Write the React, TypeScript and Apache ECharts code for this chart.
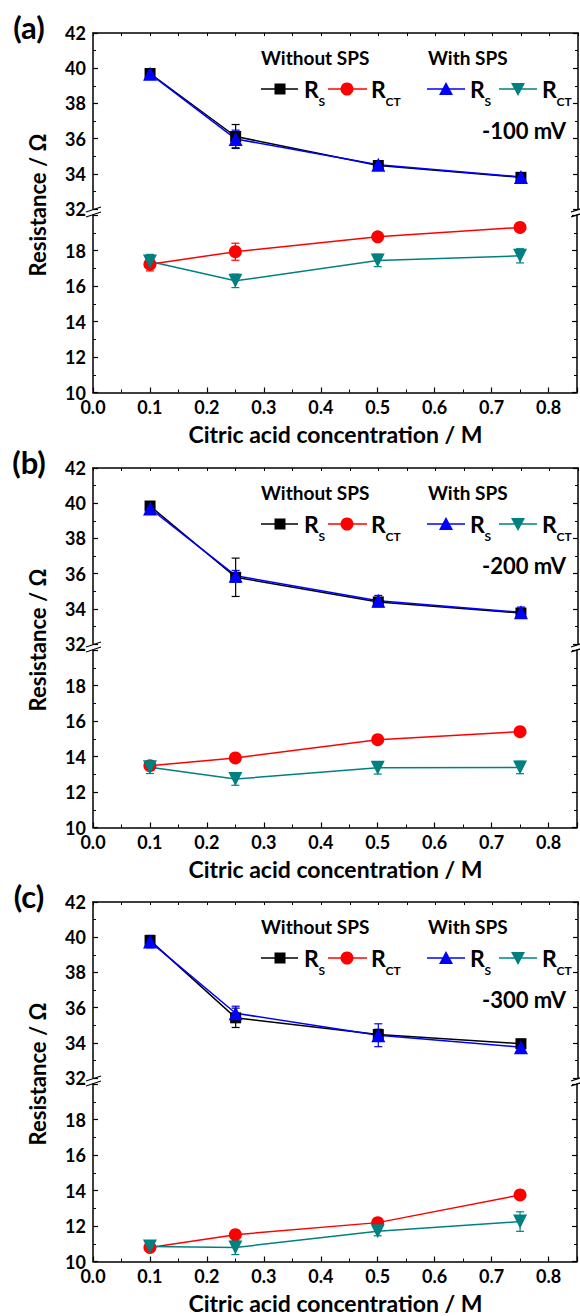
import React, { useEffect, useRef } from "react";
import * as echarts from "echarts";

// ---------- data ----------
const X_VALUES = [0.1, 0.25, 0.5, 0.75];
const PANEL_LABELS = ["(a)", "(b)", "(c)"];
const POTENTIALS = ["-100 mV", "-200 mV", "-300 mV"];
const X_TITLE = "Citric acid concentration / M";
const Y_TITLE = "Resistance / Ω";
const UPPER_RANGE = [32, 42];
const LOWER_RANGE = [10, 20];

// panel (a) -100 mV
const RS_WITHOUT_A = [39.7, 36.12, 34.47, 33.8];
const RS_WITH_A = [39.68, 35.98, 34.52, 33.82];
const RCT_WITHOUT_A = [17.23, 17.93, 18.77, 19.3];
const RCT_WITH_A = [17.38, 16.29, 17.44, 17.7];
const RS_WITHOUT_A_ERR = [0.25, 0.68, 0.2, 0.2];
const RS_WITH_A_ERR = [0.25, 0.5, 0.2, 0.25];
const RCT_WITHOUT_A_ERR = [0.38, 0.48, 0.15, 0.15];
const RCT_WITH_A_ERR = [0.4, 0.38, 0.35, 0.4];

// panel (b) -200 mV
const RS_WITHOUT_B = [39.84, 35.79, 34.39, 33.76];
const RS_WITH_B = [39.7, 35.88, 34.46, 33.8];
const RCT_WITHOUT_B = [13.48, 13.92, 14.95, 15.4];
const RCT_WITH_B = [13.39, 12.73, 13.36, 13.38];
const RS_WITHOUT_B_ERR = [0.2, 1.09, 0.25, 0.2];
const RS_WITH_B_ERR = [0.3, 0.3, 0.3, 0.3];
const RCT_WITHOUT_B_ERR = [0.2, 0.15, 0.15, 0.15];
const RCT_WITH_B_ERR = [0.35, 0.35, 0.35, 0.35];

// panel (c) -300 mV
const RS_WITHOUT_C = [39.82, 35.42, 34.47, 33.95];
const RS_WITH_C = [39.75, 35.68, 34.43, 33.75];
const RCT_WITHOUT_C = [10.79, 11.51, 12.19, 13.75];
const RCT_WITH_C = [10.85, 10.79, 11.7, 12.25];
const RS_WITHOUT_C_ERR = [0.25, 0.55, 0.3, 0.15];
const RS_WITH_C_ERR = [0.35, 0.4, 0.65, 0.35];
const RCT_WITHOUT_C_ERR = [0.2, 0.15, 0.15, 0.15];
const RCT_WITH_C_ERR = [0.3, 0.4, 0.25, 0.55];

const PANELS = [
  { rsWo: RS_WITHOUT_A, rsW: RS_WITH_A, rctWo: RCT_WITHOUT_A, rctW: RCT_WITH_A,
    rsWoE: RS_WITHOUT_A_ERR, rsWE: RS_WITH_A_ERR, rctWoE: RCT_WITHOUT_A_ERR, rctWE: RCT_WITH_A_ERR },
  { rsWo: RS_WITHOUT_B, rsW: RS_WITH_B, rctWo: RCT_WITHOUT_B, rctW: RCT_WITH_B,
    rsWoE: RS_WITHOUT_B_ERR, rsWE: RS_WITH_B_ERR, rctWoE: RCT_WITHOUT_B_ERR, rctWE: RCT_WITH_B_ERR },
  { rsWo: RS_WITHOUT_C, rsW: RS_WITH_C, rctWo: RCT_WITHOUT_C, rctW: RCT_WITH_C,
    rsWoE: RS_WITHOUT_C_ERR, rsWE: RS_WITH_C_ERR, rctWoE: RCT_WITHOUT_C_ERR, rctWE: RCT_WITH_C_ERR },
];

// ---------- style ----------
const FONT = "Lato";
const BLACK = "#000000";
const RED = "#ff0000";
const BLUE = "#0000ff";
const TEAL = "#008080";
const PANEL_TOPS = [33, 468, 902];
const GRID_LEFT = 93;
const GRID_WIDTH = 485;
const UPPER_H = 176;
const LOWER_OFF = 182;
const LOWER_H = 177.5;
const X_MAX = 0.85;

function buildOption() {
  const grids: any[] = [];
  const xAxes: any[] = [];
  const yAxes: any[] = [];
  const series: any[] = [];
  const graphics: any[] = [];

  const axisLineStyle = { color: BLACK, width: 1.5 };

  PANELS.forEach((p, i) => {
    const top = PANEL_TOPS[i];
    const gU = grids.length;
    grids.push({ left: GRID_LEFT, width: GRID_WIDTH, top, height: UPPER_H });
    const gL = grids.length;
    grids.push({ left: GRID_LEFT, width: GRID_WIDTH, top: top + LOWER_OFF, height: LOWER_H });

    // x axes
    const xU = xAxes.length;
    xAxes.push({
      type: "value", gridIndex: gU, position: "top", min: 0, max: X_MAX, interval: 0.05,
      axisLine: { show: true, lineStyle: axisLineStyle },
      axisTick: { show: true, inside: true, length: 3, lineStyle: { color: BLACK, width: 1 } },
      axisLabel: { show: false }, splitLine: { show: false },
    });
    const xL = xAxes.length;
    xAxes.push({
      type: "value", gridIndex: gL, position: "bottom", min: 0, max: X_MAX, interval: 0.1,
      axisLine: { show: true, lineStyle: axisLineStyle },
      axisTick: { show: true, inside: true, length: 5, lineStyle: { color: BLACK, width: 1.2 } },
      minorTick: { show: true, splitNumber: 2, length: 3, lineStyle: { color: BLACK, width: 1 } },
      axisLabel: {
        show: true, margin: 5, color: BLACK, fontFamily: FONT, fontWeight: "bold", fontSize: 18,
        formatter: (v: number) => (Math.abs(v * 10 - Math.round(v * 10)) < 1e-6 ? v.toFixed(1) : ""),
      },
      splitLine: { show: false },
    });

    // y axes
    const mkY = (grid: number, range: number[], pos: string, labels: boolean, hideTop: boolean) => ({
      type: "value", gridIndex: grid, position: pos, min: range[0], max: range[1], interval: 2,
      axisLine: { show: true, lineStyle: axisLineStyle },
      axisTick: { show: true, inside: true, length: 5, lineStyle: { color: BLACK, width: 1.2 } },
      minorTick: { show: true, splitNumber: 2, length: 3, lineStyle: { color: BLACK, width: 1 } },
      axisLabel: {
        show: labels, margin: 7, color: BLACK, fontFamily: FONT, fontWeight: "bold", fontSize: 18,
        formatter: (v: number) => (hideTop && v === range[1] ? "" : String(v)),
      },
      splitLine: { show: false },
    });
    const yU = yAxes.length;
    yAxes.push(mkY(gU, UPPER_RANGE, "left", true, false));
    yAxes.push(mkY(gU, UPPER_RANGE, "right", false, false));
    const yL = yAxes.length;
    yAxes.push(mkY(gL, LOWER_RANGE, "left", true, true));
    yAxes.push(mkY(gL, LOWER_RANGE, "right", false, false));

    const addSeries = (vals: number[], errs: number[], color: string, symbol: string,
      size: number, rotate: number, xi: number, yi: number, name: string) => {
      series.push({
        type: "custom", name: name + "-err", xAxisIndex: xi, yAxisIndex: yi,
        data: X_VALUES.map((x, k) => [x, vals[k], errs[k]]),
        encode: { x: 0, y: 1 }, silent: true, z: 2,
        renderItem: (_params: any, api: any) => {
          const x = api.value(0), y = api.value(1), e = api.value(2);
          const t = api.coord([x, y + e]);
          const b = api.coord([x, y - e]);
          const hw = 4;
          const st = { stroke: color, lineWidth: 1.2 };
          return {
            type: "group",
            children: [
              { type: "line", shape: { x1: t[0], y1: t[1], x2: b[0], y2: b[1] }, style: st },
              { type: "line", shape: { x1: t[0] - hw, y1: t[1], x2: t[0] + hw, y2: t[1] }, style: st },
              { type: "line", shape: { x1: b[0] - hw, y1: b[1], x2: b[0] + hw, y2: b[1] }, style: st },
            ],
          };
        },
      });
      series.push({
        type: "line", name, xAxisIndex: xi, yAxisIndex: yi,
        data: X_VALUES.map((x, k) => [x, vals[k]]),
        symbol, symbolSize: size, symbolRotate: rotate, showAllSymbol: true,
        lineStyle: { color, width: 1.5 }, itemStyle: { color }, z: 3,
      });
    };
    addSeries(p.rsWo, p.rsWoE, BLACK, "rect", 11, 0, xU, yU, "Rs without SPS");
    addSeries(p.rsW, p.rsWE, BLUE, "triangle", 14, 0, xU, yU, "Rs with SPS");
    addSeries(p.rctWo, p.rctWoE, RED, "circle", 13, 0, xL, yL, "Rct without SPS");
    addSeries(p.rctW, p.rctWE, TEAL, "triangle", 14, 180, xL, yL, "Rct with SPS");

    // break marks
    const ub = top + UPPER_H;
    const lb = top + LOWER_OFF;
    [GRID_LEFT, GRID_LEFT + GRID_WIDTH].forEach((ax) => {
      [ub + 0.5, lb - 0.5].forEach((yy) => {
        graphics.push({
          type: "line", silent: true, z: 10,
          shape: { x1: ax - 7, y1: yy + 2.5, x2: ax + 8, y2: yy - 2.5 },
          style: { stroke: BLACK, lineWidth: 1.3 },
        });
      });
    });

    // panel letter
    graphics.push({
      type: "text", x: 29, y: top - 6,
      style: { text: PANEL_LABELS[i], fontFamily: FONT, fontWeight: "bold", fontSize: 31, fill: BLACK,
        align: "center", verticalAlign: "middle" },
    });
    // y title
    graphics.push({
      type: "text", x: 37, y: top + 172, rotation: Math.PI / 2,
      style: { text: Y_TITLE, fontFamily: FONT, fontWeight: "bold", fontSize: 22, fill: BLACK,
        align: "center", verticalAlign: "middle" },
    });
    // x title
    graphics.push({
      type: "text", x: GRID_LEFT + GRID_WIDTH / 2, y: top + 401,
      style: { text: X_TITLE, fontFamily: FONT, fontWeight: "bold", fontSize: 23, fill: BLACK,
        align: "center", verticalAlign: "middle" },
    });
    // potential label
    graphics.push({
      type: "text", x: 566, y: top + 97,
      style: { text: POTENTIALS[i], fontFamily: FONT, fontWeight: "bold", fontSize: 22, fill: BLACK,
        align: "right", verticalAlign: "middle" },
    });
    // legend headers
    const txt = (x: number, y: number, s: string, size: number) => ({
      type: "text", x, y,
      style: { text: s, fontFamily: FONT, fontWeight: "bold", fontSize: size, fill: BLACK,
        align: "left", verticalAlign: "middle" },
    });
    graphics.push(txt(261, top + 24, "Without SPS", 19));
    graphics.push(txt(428, top + 24, "With SPS", 19));
    const ry = top + 56;
    const legendItem = (x0: number, x1: number, color: string, marker: any, rx: number, sub: string) => {
      graphics.push({ type: "line", shape: { x1: x0, y1: ry, x2: x1, y2: ry }, style: { stroke: color, lineWidth: 1.5 } });
      graphics.push(marker);
      graphics.push(txt(rx, ry, "R", 23));
      graphics.push(txt(rx + 14.5, ry + 12, sub, 12));
    };
    legendItem(261, 298, BLACK,
      { type: "rect", shape: { x: 274.5, y: ry - 5.5, width: 11, height: 11 }, style: { fill: BLACK } }, 304, "S");
    legendItem(328, 367, RED,
      { type: "circle", shape: { cx: 347, cy: ry, r: 6.5 }, style: { fill: RED } }, 371, "CT");
    legendItem(427, 465, BLUE,
      { type: "polygon", shape: { points: [[446, ry - 7], [439, ry + 6], [453, ry + 6]] }, style: { fill: BLUE } }, 470, "S");
    legendItem(499, 537, TEAL,
      { type: "polygon", shape: { points: [[518, ry + 7], [511, ry - 6], [525, ry - 6]] }, style: { fill: TEAL } }, 542, "CT");
  });

  return {
    animation: false,
    backgroundColor: "#ffffff",
    textStyle: { fontFamily: FONT },
    grid: grids,
    xAxis: xAxes,
    yAxis: yAxes,
    series,
    graphic: graphics,
  };
}

export default function App() {
  const ref = useRef<HTMLDivElement>(null);
  useEffect(() => {
    if (!ref.current) return;
    const chart = echarts.init(ref.current, undefined, { renderer: "svg" });
    chart.setOption(buildOption() as any);
    return () => chart.dispose();
  }, []);
  return (
    <div
      ref={ref}
      style={{ position: "absolute", left: 0, top: 0, width: 580, height: 1316, background: "#fff" }}
    />
  );
}
